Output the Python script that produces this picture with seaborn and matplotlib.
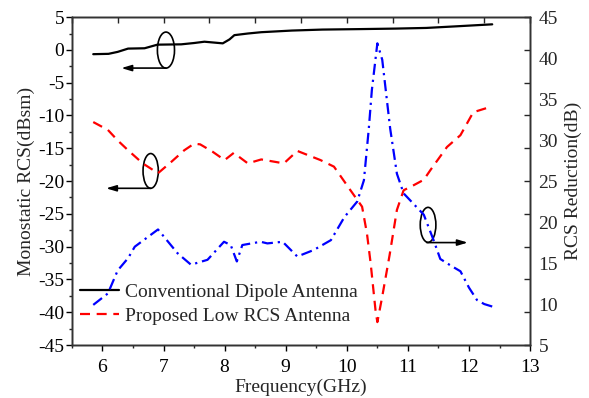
import numpy as np
import pandas as pd
import matplotlib
matplotlib.use("Agg")
import matplotlib.pyplot as plt
from matplotlib.patches import Ellipse
import seaborn as sns

# ---- data ----
freq_conv = [5.85, 6.1, 6.25, 6.42, 6.69, 6.9, 7.29, 7.5, 7.67, 7.85, 7.97, 8.08, 8.16, 8.38,
             8.6, 9.1, 9.6, 10.2, 10.8, 11.3, 11.8, 12.38]
rcs_conv = [-0.65, -0.6, -0.3, 0.2, 0.25, 0.8, 0.85, 1.05, 1.25, 1.1, 1.0, 1.6, 2.25, 2.5,
            2.7, 2.95, 3.1, 3.17, 3.25, 3.35, 3.6, 3.9]

freq_prop = [5.85, 6.09, 6.25, 6.42, 6.66, 6.91, 7.13, 7.34, 7.5, 7.6, 7.8, 8.0, 8.15, 8.38,
             8.6, 8.97, 9.19, 9.57, 9.79, 10.06, 10.25, 10.33, 10.39, 10.47, 10.5, 10.58,
             10.7, 10.82, 10.93, 11.1, 11.26, 11.37, 11.64, 11.86, 12.07, 12.38]
rcs_prop = [-11.0, -12.2, -13.8, -15.3, -17.3, -18.8, -17.05, -15.3, -14.3, -14.4, -15.5,
            -16.8, -15.7, -17.3, -16.7, -17.3, -15.4, -16.8, -17.8, -21.4, -23.9, -28.0,
            -32.5, -39.7, -41.5, -37.6, -31.3, -24.4, -21.4, -20.6, -19.8, -18.3, -14.8,
            -13.0, -9.5, -8.6]

freq_red = [5.85, 6.09, 6.25, 6.42, 6.53, 6.91, 7.23, 7.45, 7.72, 7.99, 8.1, 8.2, 8.29, 8.59,
            8.7, 8.95, 9.19, 9.46, 9.74, 9.96, 10.17, 10.28, 10.36, 10.41, 10.5, 10.58,
            10.71, 10.82, 10.93, 11.26, 11.42, 11.53, 11.7, 11.86, 12.0, 12.13, 12.25, 12.38]
reduction = [9.9, 11.3, 14.1, 15.6, 17.0, 19.1, 16.2, 14.8, 15.4, 17.6, 17.2, 15.2, 17.2, 17.6,
             17.4, 17.6, 15.8, 16.6, 17.8, 20.6, 22.5, 25.1, 31.4, 36.1, 41.8, 39.8,
             31.4, 25.9, 23.5, 20.9, 17.8, 15.5, 14.7, 14.0, 12.0, 10.5, 10.0, 9.7]

label_conv = "Conventional Dipole Antenna"
label_prop = "Proposed Low RCS Antenna"

# ---- style ----
sns.set_style("ticks")
plt.rcParams['font.family'] = ['Liberation Serif', 'DejaVu Serif']
plt.rcParams['axes.unicode_minus'] = False
FS = 14

fig = plt.figure(figsize=(5.89, 3.98), dpi=100)
ax = fig.add_axes([0.122, 0.133, 0.778, 0.824])
ax2 = ax.twinx()

df_c = pd.DataFrame({"f": freq_conv, "v": rcs_conv})
df_p = pd.DataFrame({"f": freq_prop, "v": rcs_prop})
df_r = pd.DataFrame({"f": freq_red, "v": reduction})

sns.lineplot(data=df_c, x="f", y="v", ax=ax, color="black", lw=1.6, label=label_conv,
             sort=False)
sns.lineplot(data=df_p, x="f", y="v", ax=ax, color="#ff0000", lw=1.6, label=label_prop,
             sort=False, dashes=False)
ax.lines[1].set_dashes((4.5, 3))
sns.lineplot(data=df_r, x="f", y="v", ax=ax2, color="#0000ff", lw=1.6, sort=False,
             legend=False)
ax2.lines[0].set_dashes((5, 2.2, 1, 2.2))

ax.set_xlim(5.5, 13)
ax.set_ylim(-45, 5)
ax2.set_ylim(5, 45)

ax.set_xticks(np.arange(6, 13.01, 1))
ax.set_xticks(np.arange(5.5, 13.01, 0.5), minor=True)
ax.set_yticks(np.arange(-45, 5.01, 5))
ax.set_yticks(np.arange(-45, 5.01, 2.5), minor=True)
ax2.set_yticks(np.arange(5, 45.01, 5))

ax.tick_params(axis='both', which='major', direction='out', length=4, width=1,
               labelsize=FS, pad=1.5, colors='black')
ax.tick_params(axis='both', which='minor', direction='out', length=2.5, width=1)
ax.tick_params(axis='x', which='both', pad=6)
ax2.tick_params(axis='y', which='both', length=0, labelsize=FS, pad=6)

# top inward ticks
ax3 = ax.twiny()
ax3.set_xlim(5.5, 13)
ax3.set_xticks(np.arange(5.5, 13.01, 0.75))
ax3.tick_params(axis='x', direction='in', length=4, width=1, labeltop=False)
# right inward ticks for the left scale
sec = ax.secondary_yaxis('right')
sec.set_yticks(np.arange(-45, 5.01, 5))
sec.tick_params(axis='y', direction='in', length=4, width=1, labelright=False)

for a in (ax, ax2, ax3):
    for s in a.spines.values():
        s.set_linewidth(1.0)
        s.set_color('#333333')
for s in sec.spines.values():
    s.set_visible(False)

ax.set_xlabel("Frequency(GHz)", fontsize=FS, labelpad=2)
ax.set_ylabel("Monostatic RCS(dBsm)", fontsize=FS, labelpad=2)
ax2.set_ylabel("RCS Reduction(dB)", fontsize=FS, labelpad=5)

# legend
leg = ax.legend(loc='center left', bbox_to_anchor=(0.018, 0.125), frameon=False,
                fontsize=FS, handlelength=2.0, handletextpad=0.3, labelspacing=0.3,
                borderpad=0, borderaxespad=0)

# annotations: ellipses + arrows
ell_kw = dict(fill=False, edgecolor='black', lw=1.2)
ax.add_patch(Ellipse((7.04, -0.03), 0.28, 5.5, **ell_kw))
ax.add_patch(Ellipse((6.79, -18.45), 0.25, 5.3, **ell_kw))
ax2.add_patch(Ellipse((11.33, 19.66), 0.256, 4.27, **ell_kw))

arr = dict(arrowstyle='-|>,head_length=0.6,head_width=0.18', color='black', lw=1.2,
           shrinkA=0, shrinkB=0)
ax.annotate('', xy=(6.31, -2.77), xytext=(7.04, -2.77), arrowprops=arr)
ax.annotate('', xy=(6.06, -21.1), xytext=(6.79, -21.1), arrowprops=arr)
ax2.annotate('', xy=(11.98, 17.5), xytext=(11.31, 17.5), arrowprops=arr)

fig.savefig("out.png", dpi=100)
